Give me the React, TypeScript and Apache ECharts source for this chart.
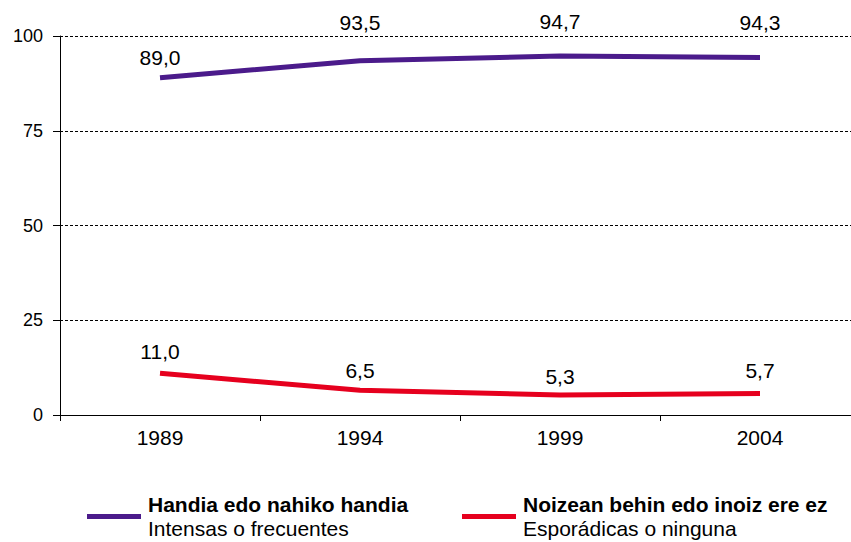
import React, { useEffect, useRef } from "react";
import * as echarts from "echarts";

const years = ["1989", "1994", "1999", "2004"];
const intensas = [89.0, 93.5, 94.7, 94.3];
const esporadicas = [11.0, 6.5, 5.3, 5.7];
const seriesNames = ["Handia edo nahiko handia", "Noizean behin edo inoiz ere ez"];
const seriesSubNames = ["Intensas o frecuentes", "Esporádicas o ninguna"];
const yTicks = [0, 25, 50, 75, 100];

const FONT = "'Liberation Sans', Arial, sans-serif";
const labelGapTop = [10, 28, 24, 25];
const labelGapBottom = [11, 9, 8, 12];

const fmt = (v: number) => v.toFixed(1).replace(".", ",");

export default function App() {
  const ref = useRef<HTMLDivElement>(null);
  useEffect(() => {
    if (!ref.current) return;
    const chart = echarts.init(ref.current, undefined, { renderer: "svg" });
    const mk = (vals: number[], gaps: number[]) =>
      vals.map((v, i) => ({ value: v, label: { distance: gaps[i] } }));
    const legendRich = {
      b: { fontFamily: FONT, fontSize: 21, fontWeight: "bold", color: "#000", lineHeight: 24 },
      r: { fontFamily: FONT, fontSize: 21, color: "#000", lineHeight: 24 },
    };
    const legendFormatter = (name: string) => {
      const idx = seriesNames.indexOf(name);
      return `{b|${name}}\n{r|${seriesSubNames[idx]}}`;
    };
    const legendBase = {
      top: 494,
      padding: 0,
      icon: "rect",
      itemWidth: 54,
      itemHeight: 5,
      formatter: legendFormatter,
      textStyle: { rich: legendRich, padding: [0, 0, 0, 2] },
    };
    const labelBase = {
      show: true,
      position: "top",
      color: "#000",
      fontFamily: FONT,
      fontSize: 21,
      formatter: (p: any) => fmt(p.value),
    };
    chart.setOption({
      animation: false,
      grid: { left: 60, top: 36, width: 800, height: 379, containLabel: false },
      legend: [
        { ...legendBase, data: [seriesNames[0]], left: 87 },
        { ...legendBase, data: [seriesNames[1]], left: 462 },
      ],
      xAxis: {
        type: "category",
        data: years,
        boundaryGap: true,
        axisLine: { lineStyle: { color: "#000", width: 1 } },
        axisTick: { show: true, length: 6, inside: false, lineStyle: { color: "#000" } },
        axisLabel: { color: "#000", fontFamily: FONT, fontSize: 21, margin: 12 },
        splitLine: { show: false },
      },
      yAxis: {
        type: "value",
        min: yTicks[0],
        max: yTicks[yTicks.length - 1],
        interval: 25,
        axisLine: { show: true, lineStyle: { color: "#000", width: 1 } },
        axisTick: { show: true, length: 7, lineStyle: { color: "#000" } },
        axisLabel: { color: "#000", fontFamily: FONT, fontSize: 18, margin: 17 },
        splitLine: { show: true, lineStyle: { color: "#000", type: [3, 2], width: 1 } },
      },
      series: [
        {
          name: seriesNames[0],
          type: "line",
          data: mk(intensas, labelGapTop),
          showSymbol: true,
          symbol: "circle",
          symbolSize: 0,
          itemStyle: { color: "#4B1B8B" },
          lineStyle: { color: "#4B1B8B", width: 5, cap: "butt" },
          label: labelBase,
        },
        {
          name: seriesNames[1],
          type: "line",
          data: mk(esporadicas, labelGapBottom),
          showSymbol: true,
          symbol: "circle",
          symbolSize: 0,
          itemStyle: { color: "#E6001E" },
          lineStyle: { color: "#E6001E", width: 5, cap: "butt" },
          label: labelBase,
        },
      ],
    });
    return () => chart.dispose();
  }, []);
  return (
    <div
      style={{ position: "absolute", left: 0, top: 0, width: 851, height: 542, overflow: "hidden", background: "#fff" }}
    >
      <div ref={ref} style={{ width: 870, height: 542 }} />
    </div>
  );
}
